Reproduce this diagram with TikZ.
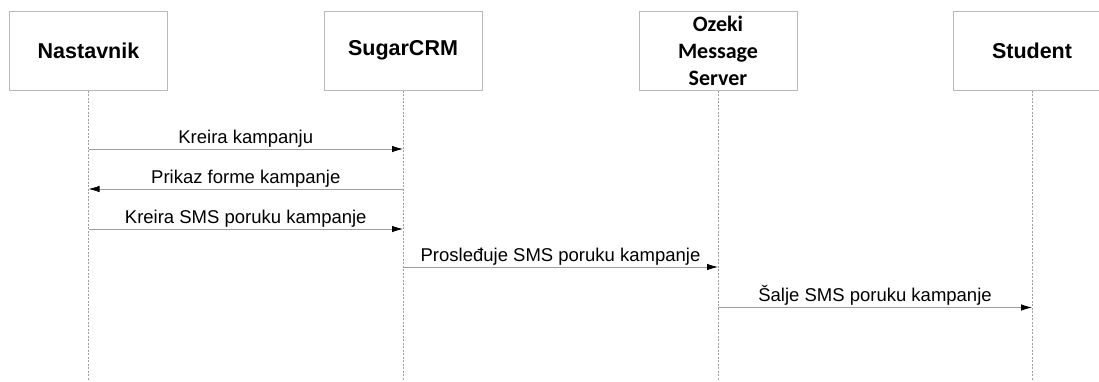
\documentclass[tikz,border=0pt]{standalone}
\usepackage{fontspec}
\setmainfont{Liberation Sans}
\newfontfamily\calibri{Carlito}
\usetikzlibrary{arrows.meta}
\tikzset{
	dijagram/.style={x=1pt, y=-1pt, font=\fontsize{18.5}{22}\selectfont},
	akter/.style={draw=gray!55, line width=1pt, fill=white, minimum width=158pt, minimum height=79pt,
	              align=center, inner sep=2pt, font=\fontsize{21.5}{26}\selectfont\bfseries},
	linija/.style={draw=gray!75, line width=0.6pt, dash pattern=on 2pt off 1.5pt},
	poruka/.style={draw=gray!75, line width=0.8pt, -{Latex[length=11pt,width=6.5pt,color=black]}},
	natpis/.style={above, inner sep=1.5pt},
}

\begin{document}
\begin{tikzpicture}[dijagram]
\useasboundingbox (0,0) rectangle (1099,381);

% ---------- akteri ----------
\node[akter] (nastavnik) at (88.5,50.5) {Nastavnik};
\node[akter] (sugar) at (403,50.5) {SugarCRM};
\node[akter, font=\calibri\fontsize{22}{27}\selectfont\bfseries] (ozeki) at (718,50.5) {Ozeki\\Message\\Server};
\node[akter] (student) at (1032,50.5) {Student};

% ---------- linije zivota ----------
\foreach \a in {nastavnik,sugar,ozeki,student}
    \draw[linija] (\a.south) -- (\a.south |- 0,381);

% ---------- poruke ----------
\draw[poruka] (nastavnik |- 0,149) -- node[natpis] {Kreira kampanju} (sugar |- 0,149);
\draw[poruka] (sugar |- 0,189) -- node[natpis] {Prikaz forme kampanje} (nastavnik |- 0,189);
\draw[poruka] (nastavnik |- 0,229) -- node[natpis] {Kreira SMS poruku kampanje} (sugar |- 0,229);
\draw[poruka] (sugar |- 0,267) -- node[natpis] {Prosleđuje SMS poruku kampanje} (ozeki |- 0,267);
\draw[poruka] (ozeki |- 0,307.5) -- node[natpis] {Šalje SMS poruku kampanje} (student |- 0,307.5);

\end{tikzpicture}
\end{document}
